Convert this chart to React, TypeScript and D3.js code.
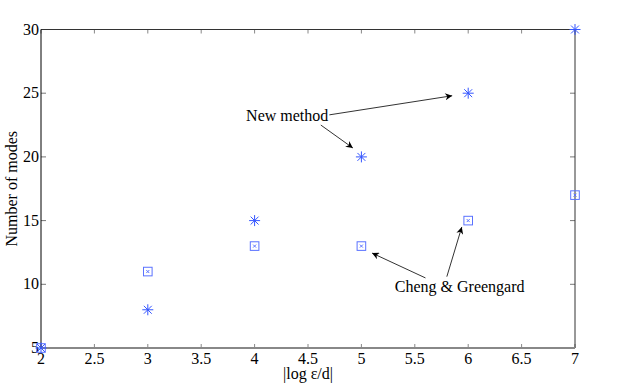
import React from "react";
import * as d3 from "d3";

const tolerances = [2, 3, 4, 5, 6, 7];
const newMethod = [5, 8, 15, 20, 25, 30];
const chengGreengard = [5, 11, 13, 13, 15, 17];
const xTicks = [2, 2.5, 3, 3.5, 4, 4.5, 5, 5.5, 6, 6.5, 7];
const yTicks = [5, 10, 15, 20, 25, 30];

// annotation arrows in data units: [x1, y1, x2, y2]
const newArrows = [
  [4.62, 22.5, 4.92, 20.7],
  [4.7, 23.3, 5.85, 24.8],
];
const chengArrows = [
  [5.6, 10.5, 5.1, 12.45],
  [5.8, 10.6, 5.94, 14.5],
];

const W = 641;
const H = 391;
const margin = { top: 29.5, right: 66, bottom: 43, left: 41 };
const font = "Liberation Serif";
const blue = "#3556ff";

export default function App() {
  const x = d3.scaleLinear().domain([2, 7]).range([margin.left, W - margin.right]);
  const y = d3.scaleLinear().domain([5, 30]).range([H - margin.bottom, margin.top]);
  const [x0, x1] = x.range();
  const [y0, y1] = y.range();

  const star = (cx: number, cy: number, i: number) => {
    const r = 5.5;
    const d = r * 0.72;
    return (
      <g key={"s" + i} stroke={blue} strokeWidth={1}>
        <line x1={cx - r} y1={cy} x2={cx + r} y2={cy} />
        <line x1={cx} y1={cy - r} x2={cx} y2={cy + r} />
        <line x1={cx - d} y1={cy - d} x2={cx + d} y2={cy + d} />
        <line x1={cx - d} y1={cy + d} x2={cx + d} y2={cy - d} />
      </g>
    );
  };

  const square = (cx: number, cy: number, i: number) => {
    const h = 4.3;
    const c = 1.5;
    return (
      <g key={"q" + i} stroke="#5a72ff" fill="none" strokeWidth={1}>
        <rect x={cx - h} y={cy - h} width={2 * h} height={2 * h} />
        <line x1={cx - c} y1={cy - c} x2={cx + c} y2={cy + c} />
        <line x1={cx - c} y1={cy + c} x2={cx + c} y2={cy - c} />
      </g>
    );
  };

  const arrow = (a: number[], i: number) => (
    <line key={"a" + i} x1={x(a[0])} y1={y(a[1])} x2={x(a[2])} y2={y(a[3])}
      stroke="#333" strokeWidth={1} markerEnd="url(#head)" />
  );

  return (
    <svg width={W} height={H} style={{ position: "absolute", left: 0, top: 0, background: "#fff" }}>
      <defs>
        <marker id="head" viewBox="0 0 10 10" refX="10" refY="5" markerWidth="9" markerHeight="7"
          orient="auto" markerUnits="userSpaceOnUse">
          <path d="M0,0 L10,5 L0,10 L3,5 Z" fill="#000" />
        </marker>
      </defs>

      {/* ticks */}
      {xTicks.map((t) => (
        <g key={"xt" + t} stroke="#888" strokeWidth={1}>
          <line x1={x(t)} x2={x(t)} y1={y0} y2={y0 - 4} />
          <line x1={x(t)} x2={x(t)} y1={y1} y2={y1 + 4} />
        </g>
      ))}
      {yTicks.map((t) => (
        <g key={"yt" + t} stroke="#777" strokeWidth={1}>
          <line x1={x0} x2={x0 + 5} y1={y(t)} y2={y(t)} />
          <line x1={x1} x2={x1 - 5} y1={y(t)} y2={y(t)} />
        </g>
      ))}

      {/* box */}
      <line x1={x0} x2={x1} y1={y1} y2={y1} stroke="#333" strokeWidth={1} />
      <line x1={x1} x2={x1} y1={y1} y2={y0} stroke="#333" strokeWidth={1} />
      <line x1={x0} x2={x1} y1={y0} y2={y0} stroke="#888" strokeWidth={2} />
      <line x1={x0} x2={x0} y1={y1} y2={y0} stroke="#000" strokeWidth={1} />

      {/* tick labels */}
      {xTicks.map((t) => (
        <text key={"xl" + t} x={x(t)} y={y0 + 15.5} textAnchor="middle" fontFamily={font} fontSize={16}>
          {t}
        </text>
      ))}
      {yTicks.map((t) => (
        <text key={"yl" + t} x={x0 - 2} y={y(t) + 5} textAnchor="end" fontFamily={font} fontSize={16}>
          {t}
        </text>
      ))}

      {/* axis labels */}
      <text x={(x0 + x1) / 2} y={y0 + 31} textAnchor="middle" fontFamily={font} fontSize={16}>
        |log ε/d|
      </text>
      <text transform={`translate(17,${(y0 + y1) / 2}) rotate(-90)`} textAnchor="middle"
        fontFamily={font} fontSize={16}>
        Number of modes
      </text>

      {/* data */}
      {tolerances.map((t, i) => square(x(t), y(chengGreengard[i]), i))}
      {tolerances.map((t, i) => star(x(t), y(newMethod[i]), i))}

      {/* annotations */}
      {newArrows.map(arrow)}
      {chengArrows.map((a, i) => arrow(a, i + 2))}
      <text x={x(4.69)} y={y(22.78)} textAnchor="end" fontFamily={font} fontSize={16}>
        New method
      </text>
      <text x={x(5.92)} y={y(9.36)} textAnchor="middle" fontFamily={font} fontSize={16}>
        Cheng &amp; Greengard
      </text>
    </svg>
  );
}
